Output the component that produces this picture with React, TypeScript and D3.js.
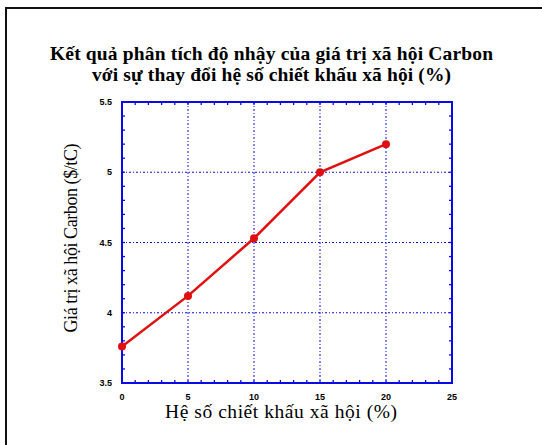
import React from "react";
import * as d3 from "d3";

const discountRates = [0, 5, 10, 15, 20];
const carbonValues = [3.76, 4.12, 4.53, 5.0, 5.2];
const xTicks = [0, 5, 10, 15, 20, 25];
const yTicks = [3.5, 4, 4.5, 5, 5.5];
const titleLines = [
  "Kết quả phân tích độ nhậy của giá trị xã hội Carbon",
  "với sự thay đổi hệ số chiết khấu xã hội (%)",
];
const titleWidths = [443, 359];
const xLabel = "Hệ số chiết khấu xã hội (%)";
const yLabel = "Giá trị xã hội Carbon  ($/tC)";

const W = 542;
const H = 445;
const plot = { left: 122, right: 452, top: 102, bottom: 383 };
const blue = "#0a0ae6";
const red = "#e01010";
const serif = "Liberation Serif, DejaVu Serif, serif";
const sans = "Liberation Sans, Arial, sans-serif";

export default function App() {
  const x = d3.scaleLinear().domain([0, 25]).range([plot.left, plot.right]);
  const y = d3.scaleLinear().domain([3.5, 5.5]).range([plot.bottom, plot.top]);
  const xMinor = d3.range(0, 25.001, 1);
  const yMinor = d3.range(3.5, 5.5001, 0.1);
  const line = d3
    .line<number>()
    .x((_, i) => x(discountRates[i]))
    .y((d) => y(d));
  const tl = 3;
  return (
    <svg
      width={W}
      height={H}
      style={{ position: "absolute", left: 0, top: 0, background: "#fff" }}
    >
      <rect x={0} y={0} width={W} height={H} fill="#fff" />
      <rect x={6} y={8} width={W + 10} height={H + 10} fill="none" stroke="#111" strokeWidth={2} />
      {titleLines.map((t, i) => (
        <text
          key={i}
          x={271.5}
          y={60 + i * 21}
          textAnchor="middle"
          textLength={titleWidths[i]}
          lengthAdjust="spacing"
          style={{ fontFamily: serif, fontWeight: "bold", fontSize: "19.5px" }}
          fill="#000"
        >
          {t}
        </text>
      ))}
      {/* grid */}
      {xTicks.slice(1, -1).map((v) => (
        <line
          key={"gx" + v}
          x1={x(v)}
          x2={x(v)}
          y1={plot.top}
          y2={plot.bottom}
          stroke={blue}
          strokeWidth={1}
          strokeDasharray="2,2,1,2"
        />
      ))}
      {yTicks.slice(1, -1).map((v) => (
        <line
          key={"gy" + v}
          x1={plot.left}
          x2={plot.right}
          y1={y(v)}
          y2={y(v)}
          stroke={blue}
          strokeWidth={1}
          strokeDasharray="2,2,1,2"
        />
      ))}
      {/* minor ticks */}
      {xMinor.map((v) => (
        <g key={"mx" + v}>
          <line x1={x(v)} x2={x(v)} y1={plot.bottom} y2={plot.bottom - tl} stroke={blue} strokeWidth={1.3} />
          <line x1={x(v)} x2={x(v)} y1={plot.top} y2={plot.top + tl} stroke={blue} strokeWidth={1.3} />
        </g>
      ))}
      {yMinor.map((v) => (
        <g key={"my" + v}>
          <line x1={plot.left} x2={plot.left + tl} y1={y(v)} y2={y(v)} stroke={blue} strokeWidth={1.3} />
          <line x1={plot.right} x2={plot.right - tl} y1={y(v)} y2={y(v)} stroke={blue} strokeWidth={1.3} />
        </g>
      ))}
      <rect
        x={plot.left}
        y={plot.top}
        width={plot.right - plot.left}
        height={plot.bottom - plot.top}
        fill="none"
        stroke={blue}
        strokeWidth={2}
      />
      {/* tick labels */}
      {xTicks.map((v) => (
        <text
          key={"tx" + v}
          x={x(v)}
          y={plot.bottom + 17}
          textAnchor="middle"
          style={{ fontFamily: sans, fontWeight: "bold", fontSize: "9px" }}
          fill="#000"
        >
          {v}
        </text>
      ))}
      {yTicks.map((v) => (
        <text
          key={"ty" + v}
          x={plot.left - 10}
          y={y(v) + 3}
          textAnchor="end"
          style={{ fontFamily: sans, fontWeight: "bold", fontSize: "9px" }}
          fill="#000"
        >
          {d3.format("")(v)}
        </text>
      ))}
      {/* data */}
      <path d={line(carbonValues) || ""} fill="none" stroke={red} strokeWidth={2.5} />
      {carbonValues.map((v, i) => (
        <circle key={"p" + i} cx={x(discountRates[i])} cy={y(v)} r={4} fill={red} />
      ))}
      {/* axis labels */}
      <text
        x={281}
        y={418}
        textAnchor="middle"
        textLength={232}
        lengthAdjust="spacing"
        style={{ fontFamily: serif, fontSize: "19.5px" }}
        fill="#000"
      >
        {xLabel}
      </text>
      <text
        transform={`translate(77, 238) rotate(-90)`}
        textAnchor="middle"
        textLength={189}
        lengthAdjust="spacing"
        style={{ fontFamily: serif, fontSize: "18px" }}
        fill="#000"
      >
        {yLabel}
      </text>
    </svg>
  );
}
